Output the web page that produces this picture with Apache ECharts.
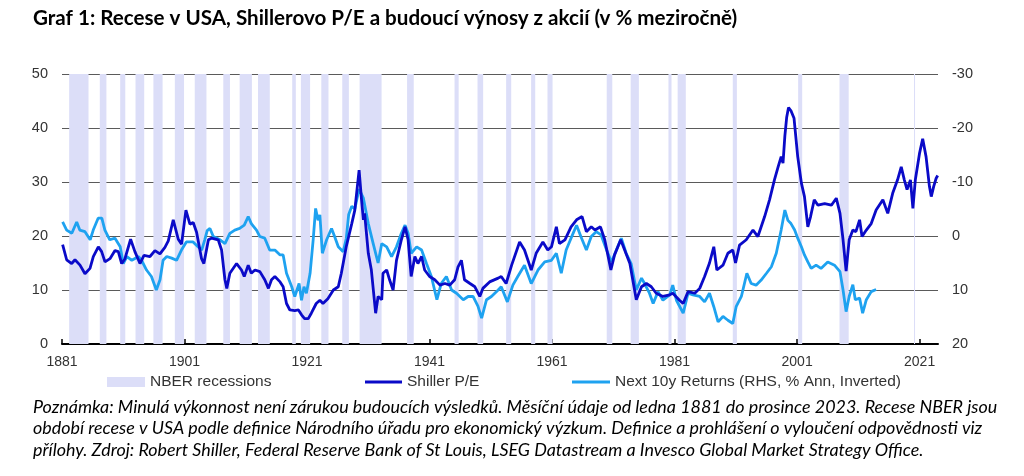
<!DOCTYPE html>
<html>
<head>
<meta charset="utf-8">
<script src="https://cdn.jsdelivr.net/npm/echarts@6/dist/echarts.min.js"></script>
<style>
html,body{margin:0;padding:0;background:#fff;}
#c{width:1024px;height:476px;}
</style>
</head>
<body>
<div id="c"></div>
<script>
// ---- Data ----
const titleText = 'Graf 1: Recese v USA, Shillerovo P/E a budoucí výnosy z akcií (v % meziročně)';
const noteLines = [
  'Poznámka: Minulá výkonnost není zárukou budoucích výsledků. Měsíční údaje od ledna 1881 do prosince 2023. Recese NBER jsou',
  'období recese v USA podle definice Národního úřadu pro ekonomický výzkum. Definice a prohlášení o vyloučení odpovědnosti viz',
  'přílohy. Zdroj: Robert Shiller, Federal Reserve Bank of St Louis, LSEG Datastream a Invesco Global Market Strategy Office.'
];
const seriesNames = ['NBER recessions', 'Shiller P/E', 'Next 10y Returns (RHS, % Ann, Inverted)'];

// NBER recessions (peak, trough) as decimal years
const recStart = [1882.17,1887.17,1890.5,1893.0,1895.92,1899.42,1902.67,1907.33,1910.0,1913.0,1918.58,1920.0,1923.33,1926.75,1929.58,1937.33,1945.08,1948.83,1953.5,1957.58,1960.25,1969.92,1973.83,1980.0,1981.5,1990.5,2001.17,2007.92,2020.08];
const recEnd   = [1885.33,1888.25,1891.33,1894.42,1897.42,1900.92,1904.58,1908.42,1912.0,1914.92,1919.17,1921.5,1924.5,1927.83,1933.17,1938.42,1945.75,1949.75,1954.33,1958.25,1961.08,1970.83,1975.17,1980.5,1982.83,1991.17,2001.83,2009.42,2020.25];

// Shiller P/E (LHS)
const peYears = [1881.1,1881.76,1882.58,1883.12,1883.94,1884.75,1885.57,1886.11,1886.93,1887.47,1888.02,1888.83,1889.65,1890.19,1890.74,1891.28,1892.2,1892.9,1893.73,1894.38,1895.36,1896.17,1896.99,1897.8,1898.35,1899.16,1899.98,1900.52,1901.23,1901.88,1902.42,1902.97,1903.78,1904.16,1904.9,1905.4,1906.5,1907.05,1907.6,1907.9,1908.4,1909.5,1910.3,1910.75,1911.4,1911.9,1912.5,1913.3,1914.1,1914.7,1915.2,1915.75,1916.6,1917.1,1917.65,1918.2,1919.0,1919.6,1920.1,1920.6,1921.2,1921.7,1922.5,1923.1,1923.6,1924.4,1925.3,1926.1,1926.6,1927.4,1928.3,1928.8,1929.5,1929.9,1930.2,1930.4,1931.0,1931.5,1932.2,1932.6,1933.2,1933.4,1934.0,1934.5,1935.05,1935.6,1936.4,1937.0,1937.5,1938.0,1938.6,1939.1,1939.7,1940.2,1941.0,1941.85,1942.7,1943.5,1944.3,1945.1,1945.65,1946.2,1946.7,1947.6,1948.4,1949.2,1949.7,1950.8,1952.2,1952.7,1953.5,1954.4,1955.7,1956.5,1957.6,1958.4,1959.5,1960.3,1960.9,1961.7,1962.2,1963.1,1964.1,1965.0,1965.9,1966.6,1967.4,1968.0,1968.9,1969.6,1970.6,1971.2,1972.2,1972.85,1973.7,1974.75,1975.6,1976.4,1977.2,1978.0,1979.1,1980.2,1980.7,1981.8,1982.4,1983.2,1984.3,1985.1,1985.9,1986.7,1987.4,1987.9,1988.9,1989.7,1990.5,1990.95,1991.6,1992.7,1993.8,1994.6,1995.7,1996.5,1997.3,1997.9,1998.4,1998.7,1999.0,1999.3,1999.6,2000.0,2000.5,2001.1,2001.7,2002.2,2002.75,2003.2,2003.8,2004.4,2005.5,2006.6,2007.4,2008.0,2008.5,2009.0,2009.5,2010.1,2010.6,2011.2,2011.6,2012.3,2013.1,2013.9,2015.0,2015.8,2016.6,2017.4,2018.0,2018.5,2018.95,2019.5,2019.9,2020.3,2021.0,2021.5,2022.05,2022.6,2022.9,2023.3,2023.7,2023.95];
const peValues = [18.4,15.6,14.9,15.6,14.6,13.0,14.0,16.2,18.0,17.1,15.2,15.8,17.3,17.1,14.9,15.8,19.4,17.1,14.9,16.4,16.2,17.3,16.7,17.9,19.1,23.0,19.4,18.5,24.8,22.2,22.5,20.7,15.8,14.9,19.3,19.6,19.3,17.4,11.9,10.3,13.1,14.9,13.7,12.5,14.6,13.1,13.7,13.4,11.9,10.3,11.9,12.5,11.5,10.6,7.5,6.3,6.2,6.3,5.4,4.7,4.7,5.7,7.5,8.1,7.5,8.4,10.0,10.6,13.1,18.0,22.3,24.8,32.2,26.7,23.0,24.2,16.8,13.7,5.7,8.8,8.2,13.1,13.7,11.8,10.0,15.5,19.3,21.7,19.3,12.5,16.2,14.9,16.2,13.7,12.5,11.9,10.9,11.2,10.9,11.9,14.3,15.5,11.9,11.2,10.6,8.8,10.3,11.5,12.2,12.5,11.2,14.6,18.9,17.4,13.7,16.8,18.9,17.4,18.0,21.7,18.6,19.3,21.7,23.0,23.6,20.8,21.7,21.1,21.7,19.3,13.7,16.5,19.3,17.4,14.9,8.2,10.6,11.2,10.6,9.4,8.8,9.1,9.4,8.1,7.5,9.7,9.4,10.3,12.5,15.0,18.0,13.7,14.6,16.8,17.4,15.0,18.3,19.3,21.1,19.9,23.6,26.7,30.4,32.8,34.7,33.5,38.5,42.0,43.8,43.2,41.8,34.7,29.8,27.3,21.7,23.6,26.7,25.7,26.0,25.7,27.0,24.2,19.3,13.5,19.3,21.1,20.8,23.0,19.9,21.1,22.3,24.8,26.7,24.2,27.9,30.4,32.8,30.4,28.6,30.4,25.1,30.4,35.4,38.0,34.7,29.2,27.3,29.2,30.7,31.2];

// Next 10y returns (RHS, % p.a., inverted axis)
const retYears = [1881.1,1881.76,1882.6,1883.4,1883.9,1884.75,1885.6,1886.1,1886.9,1887.5,1888.0,1888.8,1889.65,1890.5,1891.0,1891.6,1892.4,1893.5,1894.0,1894.8,1895.6,1896.4,1897.0,1897.5,1898.1,1898.9,1899.7,1900.5,1901.3,1902.4,1903.2,1903.8,1904.3,1904.7,1905.15,1905.7,1906.8,1907.6,1908.4,1909.2,1910.0,1910.75,1911.4,1911.9,1912.75,1913.3,1914.1,1914.9,1915.75,1916.6,1917.1,1917.65,1918.5,1919.0,1919.7,1920.1,1920.5,1920.9,1921.5,1922.0,1922.4,1922.8,1923.1,1923.5,1924.2,1925.0,1925.5,1926.1,1926.9,1927.4,1927.8,1928.3,1928.8,1929.5,1930.2,1931.0,1931.8,1932.6,1933.2,1934.0,1934.8,1935.6,1936.4,1937.0,1937.5,1938.0,1938.9,1939.7,1940.5,1941.3,1942.2,1942.9,1943.75,1944.6,1945.4,1946.5,1947.3,1948.1,1948.9,1949.5,1950.3,1951.1,1952.2,1952.7,1953.7,1954.6,1955.4,1956.5,1957.6,1958.7,1959.8,1960.9,1961.7,1962.5,1963.3,1964.1,1965.0,1965.7,1966.6,1967.4,1968.2,1969.0,1969.9,1970.7,1971.5,1972.3,1973.1,1973.9,1974.75,1975.6,1976.1,1976.9,1977.5,1978.3,1979.1,1980.2,1980.7,1981.3,1982.4,1983.2,1984.0,1985.1,1985.9,1986.7,1987.4,1988.1,1988.9,1989.7,1990.5,1991.05,1991.9,1992.8,1993.5,1994.3,1995.1,1996.0,1996.8,1997.6,1998.4,1999.0,1999.5,2000.0,2000.6,2001.1,2001.7,2002.2,2002.75,2003.3,2004.1,2004.9,2006.0,2007.1,2008.0,2008.5,2009.0,2009.5,2010.1,2010.5,2011.2,2011.7,2012.3,2013.1,2013.9];
const retValues = [-2.6,-1.1,-0.5,-2.6,-1.1,-0.8,0.7,-1.1,-3.3,-3.3,-1.1,0.7,0.4,2.0,5.1,3.8,4.5,3.8,4.5,6.3,7.5,10.0,8.1,4.5,3.8,4.1,4.5,2.6,1.1,1.1,2.0,2.6,0.7,-1.0,-1.4,0.1,0.7,1.4,-0.5,-1.1,-1.4,-2.0,-3.6,-2.3,-1.1,0.1,0.4,2.6,2.6,3.5,3.5,6.9,9.4,11.2,8.8,11.9,9.4,10.6,6.9,0.7,-5.1,-2.9,-3.9,3.2,0.7,-1.4,0.1,2.0,2.9,0.5,-4.0,-5.5,-5.0,-8.7,-7.0,-2.3,1.4,5.0,1.4,2.0,3.8,2.0,-0.5,-2.0,-0.5,3.2,2.0,2.6,5.1,7.5,11.8,8.8,7.5,10.0,10.6,11.8,11.2,11.2,13.0,15.2,11.8,11.2,10.0,9.4,12.2,9.1,7.5,5.4,8.8,6.3,4.8,4.5,3.2,6.9,2.6,0.4,-2.0,0.1,2.6,0.1,-0.8,-0.2,2.6,4.8,2.6,0.4,3.2,5.1,10.0,7.8,8.8,10.6,12.5,10.3,11.9,10.9,9.1,11.9,14.3,10.6,10.9,11.2,12.2,10.6,13.1,15.9,14.9,15.6,16.2,13.1,11.2,6.9,8.8,9.1,8.2,6.9,5.7,3.2,-1.1,-4.8,-2.9,-2.3,-1.1,0.4,2.0,3.5,4.8,6.0,5.4,6.0,4.8,5.4,6.6,10.0,14.0,11.2,9.0,11.8,11.5,14.3,11.8,10.3,9.9];

// Axis settings
const xMin = 1881, xMax = 2024, xStep = 20;
const lMin = 0, lMax = 50, lStep = 10;
const rMin = -30, rMax = 20, rStep = 10;

// ---- Build option ----
const peData = peYears.map((y, i) => [y, peValues[i]]);
const retData = retYears.map((y, i) => [y, retValues[i]]);
const recAreas = recStart.map((s, i) => [{ xAxis: s }, { xAxis: recEnd[i] }]);

const FONT = '"Liberation Sans", Arial, sans-serif';
const BAND = '#dcdef8';
const DARK = '#0a0ac8';
const LIGHT = '#1ea2f0';

const chart = echarts.init(document.getElementById('c'), null, { renderer: 'canvas' });
const legendBase = {
  orient: 'horizontal', top: 374, padding: 0, itemGap: 0,
  textStyle: { fontFamily: FONT, fontSize: 15.5, color: '#333' },
  selectedMode: false
};
chart.setOption({
  animation: false,
  backgroundColor: '#fff',
  title: [
    { text: titleText, left: 33, top: 8, padding: 0,
      textStyle: { fontFamily: 'Lato, sans-serif', fontWeight: 'bold', fontSize: 20.6, color: '#000' } },
    ...noteLines.map((t, i) => ({
      text: t, left: 33, top: 398 + i * 21.5, padding: 0,
      textStyle: { fontFamily: 'Lato, sans-serif', fontStyle: 'italic', fontWeight: 'normal', fontSize: 17.9, color: '#000' }
    }))
  ],
  legend: [
    Object.assign({}, legendBase, { left: 107, itemWidth: 38, itemHeight: 10,
      data: [{ name: seriesNames[0], icon: 'rect', itemStyle: { color: BAND } }] }),
    Object.assign({}, legendBase, { left: 365, itemWidth: 37, itemHeight: 3,
      data: [{ name: seriesNames[1], icon: 'rect', itemStyle: { color: DARK } }] }),
    Object.assign({}, legendBase, { left: 572, itemWidth: 38, itemHeight: 3,
      data: [{ name: seriesNames[2], icon: 'rect', itemStyle: { color: LIGHT } }] })
  ],
  grid: { left: 62, right: 86, top: 74, bottom: 132, containLabel: false },
  xAxis: {
    type: 'value', min: xMin, max: xMax, interval: xStep,
    axisLine: { show: true, lineStyle: { color: '#000', width: 2 } },
    axisTick: { show: true, inside: true, length: 5, lineStyle: { color: '#000', width: 1.5 } },
    axisLabel: { showMaxLabel: false, margin: 11, fontFamily: FONT, fontSize: 14, color: '#333',
      formatter: v => String(Math.round(v)) },
    splitLine: { show: false }
  },
  yAxis: [
    { type: 'value', min: lMin, max: lMax, interval: lStep, position: 'left',
      axisLine: { show: false }, axisTick: { show: false },
      axisLabel: { margin: 14, fontFamily: FONT, fontSize: 14.5, color: '#333' },
      splitLine: { show: true, lineStyle: { color: '#5a5a5a', width: 1 } } },
    { type: 'value', min: rMin, max: rMax, interval: rStep, inverse: true, position: 'right',
      axisLine: { show: false }, axisTick: { show: false },
      axisLabel: { margin: 14, fontFamily: FONT, fontSize: 14.5, color: '#333' },
      splitLine: { show: false } }
  ],
  series: [
    { name: seriesNames[0], type: 'line', data: [], color: BAND, silent: true,
      markArea: { silent: true, itemStyle: { color: BAND, opacity: 1 }, data: recAreas } },
    { name: seriesNames[1], type: 'line', data: peData, yAxisIndex: 0, color: DARK,
      showSymbol: false, symbol: 'none', lineStyle: { width: 2.8, color: DARK }, z: 4 },
    { name: seriesNames[2], type: 'line', data: retData, yAxisIndex: 1, color: LIGHT,
      showSymbol: false, symbol: 'none', lineStyle: { width: 2.8, color: LIGHT }, z: 3 }
  ]
});
</script>
</body>
</html>
